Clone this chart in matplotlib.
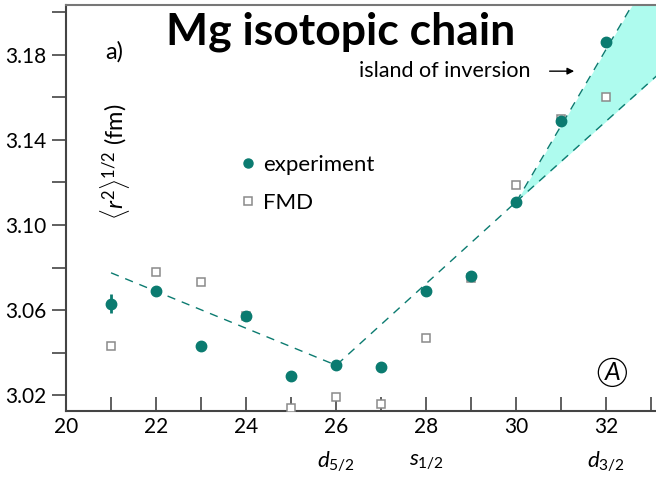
import matplotlib
matplotlib.use("Agg")
import matplotlib.pyplot as plt
from matplotlib.lines import Line2D

plt.rcParams['font.family'] = ['Lato', 'DejaVu Sans']
plt.rcParams['mathtext.fontset'] = 'custom'
plt.rcParams['mathtext.rm'] = 'Lato'
plt.rcParams['mathtext.it'] = 'Lato:italic'

# mass number A
mass = [21, 22, 23, 24, 25, 26, 27, 28, 29, 30, 31, 32]
exp_r = [3.063, 3.069, 3.043, 3.057, 3.029, 3.034, 3.033, 3.069, 3.076, 3.111, 3.149, 3.186]
exp_err = [0.0045, 0, 0, 0, 0, 0, 0, 0, 0, 0, 0, 0]
fmd_r = [3.043, 3.078, 3.073, 3.057, 3.014, 3.019, 3.016, 3.047, 3.075, 3.119, 3.150, 3.160]

# dashed trend lines
trend_x = [21, 26, 30]
trend_y = [3.0775, 3.034, 3.111]
upper_x = [30, 32.6]
upper_y = [3.111, 3.2045]
lower_x = [30, 33.2]
lower_y = [3.111, 3.1718]

shell_pos = [26, 28, 32]
shell_lab = [r'$d_{5/2}$', r'$s_{1/2}$', r'$d_{3/2}$']

teal = '#0b7b70'
cyan = '#aefbee'

fig = plt.figure(figsize=(6.56, 4.79), dpi=100)
ax = fig.add_axes([0.1006, 0.142, 0.8994, 0.8476])

slope = (upper_y[1] - upper_y[0]) / (upper_x[1] - upper_x[0])
ax.fill_between(lower_x, lower_y, [upper_y[0] + slope * (x - upper_x[0]) for x in lower_x],
                color=cyan, lw=0, zorder=1)
ax.plot(trend_x, trend_y, color=teal, lw=1, dashes=(6, 5), zorder=2)
ax.plot(upper_x, upper_y, color=teal, lw=1, dashes=(6, 5), zorder=2)
ax.plot(lower_x, lower_y, color=teal, lw=1, dashes=(6, 5), zorder=2)

ax.plot(mass, fmd_r, 's', ms=6, mfc='white', mec='#8a8a8a', mew=1.1, zorder=3)
ax.errorbar(mass, exp_r, yerr=exp_err, fmt='o', ms=7.5, color=teal, elinewidth=2,
            capsize=0, zorder=4)

ax.set_xlim(20, 33.1)
ax.set_ylim(3.0125, 3.2035)
ax.set_xticks(range(20, 34, 2))
ax.set_xticks(range(21, 34, 2), minor=True)
ax.set_yticks([3.02, 3.06, 3.10, 3.14, 3.18])
ax.set_yticklabels(['3.02', '3.06', '3.10', '3.14', '3.18'])
ax.set_yticks([3.04, 3.08, 3.12, 3.16, 3.20], minor=True)
ax.tick_params(axis='x', which='both', direction='in', length=10, width=1.2,
               color='#444444', labelsize=15, pad=4)
ax.tick_params(axis='y', which='both', direction='out', length=10, width=1.2,
               color='#444444', labelsize=15, pad=4)
ax.spines['right'].set_visible(False)
for s in ['left', 'bottom']:
    ax.spines[s].set_color('#444444')
    ax.spines[s].set_linewidth(1.5)
ax.spines['top'].set_color('#777777')
ax.spines['top'].set_linewidth(1.5)

ax.text(0.465, 0.985, 'Mg isotopic chain', transform=ax.transAxes, ha='center', va='top',
        fontsize=32, fontweight='bold')
ax.text(0.066, 0.885, 'a)', transform=ax.transAxes, ha='left', va='center', fontsize=17)
ax.text(0.083, 0.615, r'$\langle r^2\rangle^{1/2}$ (fm)', transform=ax.transAxes,
        rotation=90, ha='center', va='center', fontsize=17)
ax.annotate('', xy=(0.866, 0.837), xytext=(0.815, 0.837), xycoords='axes fraction',
            arrowprops=dict(arrowstyle='-|>', color='black', lw=1, mutation_scale=10))
ax.text(0.787, 0.837, 'island of inversion', transform=ax.transAxes, ha='right', va='center',
        fontsize=15.5)
ax.text(0.926, 0.095, 'A', transform=ax.transAxes, ha='center', va='center', fontsize=18,
        style='italic', bbox=dict(boxstyle='circle,pad=0.1', fc='none', ec='black', lw=0.9))

for x, lab in zip(shell_pos, shell_lab):
    ax.text(x, -0.125, lab, transform=ax.get_xaxis_transform(), ha='center', va='center',
            fontsize=16)

handles = [Line2D([], [], ls='none', marker='o', ms=6.5, color=teal),
           Line2D([], [], ls='none', marker='s', ms=5.5, mfc='white', mec='#8a8a8a', mew=1.1)]
ax.legend(handles, ['experiment', 'FMD'], loc='upper left', bbox_to_anchor=(0.255, 0.68),
          frameon=False, fontsize=16, handletextpad=0.2, labelspacing=0.8, handlelength=1.0)

fig.savefig('out.png', dpi=100)
